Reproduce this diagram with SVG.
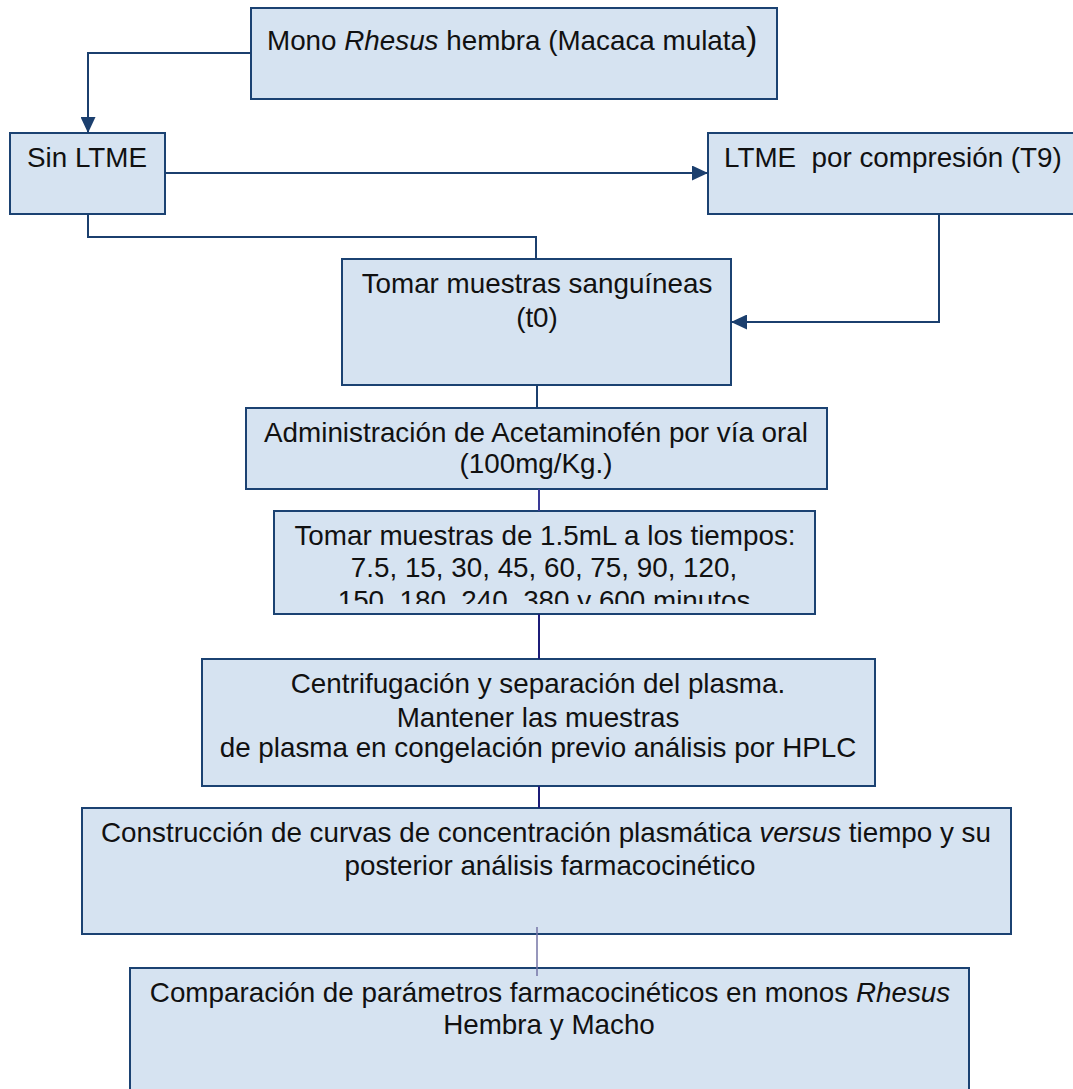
<svg xmlns="http://www.w3.org/2000/svg" width="1073" height="1089" viewBox="0 0 1073 1089">
<style>
.box{fill:#d6e3f1;stroke:#1b4272;stroke-width:2}
.t{font-family:"Liberation Sans",Arial,sans-serif;font-size:27.8px;fill:#111}
.c{text-anchor:middle}
.ln{fill:none;stroke:#1b3f6e;stroke-width:2}
</style>
<defs>
<marker id="ah" viewBox="0 0 16 15" refX="16" refY="7.5" markerWidth="16" markerHeight="15" markerUnits="userSpaceOnUse" orient="auto">
<path d="M0,0 L16,7.5 L0,15 z" fill="#1b3f6e"/>
</marker>
<clipPath id="clip5"><rect x="274" y="511" width="541" height="93"/></clipPath>
</defs>
<rect width="1073" height="1089" fill="#fff"/>
<g id="n1">
<rect class="box" x="251" y="8" width="526" height="91"/>
<text class="t" x="267" y="50">Mono <tspan font-style="italic">Rhesus</tspan> hembra (Macaca mulata<tspan font-size="34px">)</tspan></text>
</g>
<g id="n2">
<rect class="box" x="10" y="133" width="155" height="81"/>
<text class="t" x="27" y="167">Sin LTME</text>
</g>
<g id="n3">
<rect class="box" x="708" y="133" width="372" height="81"/>
<text class="t" x="724" y="167" xml:space="preserve">LTME  por compresión (T9)</text>
</g>
<g id="n4">
<rect class="box" x="342" y="259" width="389" height="126"/>
<text class="t c" x="537" y="293">Tomar muestras sanguíneas</text>
<text class="t c" x="537" y="327">(t0)</text>
</g>
<g id="n5">
<rect class="box" x="246" y="408" width="581" height="81"/>
<text class="t c" x="536" y="442">Administración de Acetaminofén por vía oral</text>
<text class="t c" x="536" y="473">(100mg/Kg.)</text>
</g>
<g id="n6">
<rect class="box" x="274" y="511" width="541" height="103"/>
<g clip-path="url(#clip5)">
<text class="t c" x="545" y="545">Tomar muestras de 1.5mL a los tiempos:</text>
<text class="t c" x="544" y="577">7.5, 15, 30, 45, 60, 75, 90, 120,</text>
<text class="t c" x="544" y="610">150, 180, 240, 380 y 600 minutos</text>
</g>
</g>
<g id="n7">
<rect class="box" x="202" y="659" width="673" height="127"/>
<text class="t c" x="538" y="693">Centrifugación y separación del plasma.</text>
<text class="t c" x="538" y="727">Mantener las muestras</text>
<text class="t c" x="538" y="757">de plasma en congelación previo análisis por HPLC</text>
</g>
<g id="n8">
<rect class="box" x="82" y="808" width="929" height="126"/>
<text class="t c" x="546" y="842">Construcción de curvas de concentración plasmática <tspan font-style="italic">versus</tspan> tiempo y su</text>
<text class="t c" x="550" y="875">posterior análisis farmacocinético</text>
</g>
<g id="n9">
<rect class="box" x="130" y="968" width="839" height="140"/>
<text class="t c" x="550" y="1002">Comparación de parámetros farmacocinéticos en monos <tspan font-style="italic">Rhesus</tspan></text>
<text class="t c" x="549" y="1034">Hembra y Macho</text>
</g>
<g id="connectors">
<path class="ln" d="M251,53 H88 V133" marker-end="url(#ah)"/>
<path class="ln" d="M165,173 H708" marker-end="url(#ah)"/>
<path class="ln" d="M88,214 V237 H536 V259"/>
<path class="ln" d="M939,214 V322 H731" marker-end="url(#ah)"/>
<path class="ln" d="M537,385 V408"/>
<path class="ln" d="M539,489 V511" style="stroke:#3a3a96"/>
<path class="ln" d="M539,614 V659" style="stroke:#1c1c78"/>
<path class="ln" d="M539,786 V808" style="stroke:#1c1c78"/>
<path class="ln" d="M537,927 V976" style="stroke:#7474a6;stroke-width:1.5"/>
</g>
</svg>
